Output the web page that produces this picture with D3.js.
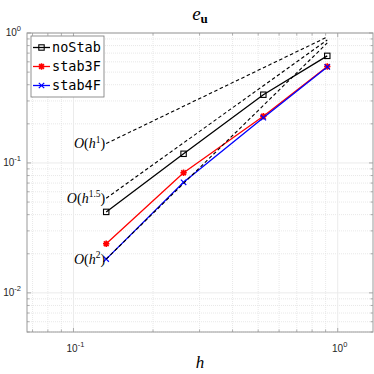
<!DOCTYPE html>
<html>
<head>
<meta charset="utf-8">
<script src="https://cdn.jsdelivr.net/npm/d3@7"></script>
<style>
  body { margin: 0; background: #fff; }
</style>
</head>
<body>
<div id="chart"></div>
<script>
// Data
const hValues = [0.133, 0.261, 0.523, 0.913]
const seriesNames = ['noStab', 'stab3F', 'stab4F']
const noStab = [0.042, 0.1176, 0.335, 0.667]
const stab3F = [0.0239, 0.0841, 0.2285, 0.552]
const stab4F = [0.0182, 0.071, 0.223, 0.548]
// reference slopes: value at first and last h
const refOrders = ['1', '1.5', '2']
const refStart = [0.141, 0.0535, 0.0182]
const refEnd = [0.932, 0.884, 0.838]
const xTickValues = [0.1, 1]
const xTickExps = ['-1', '0']
const yTickValues = [0.01, 0.1, 1]
const yTickExps = ['-2', '-1', '0']

function draw() {
  let dimensions = {
    width: 374,
    height: 374,
    margins: { top: 33, bottom: 42, left: 27, right: 1 }
  }
  dimensions.ctrWidth = dimensions.width - dimensions.margins.left - dimensions.margins.right
  dimensions.ctrHeight = dimensions.height - dimensions.margins.top - dimensions.margins.bottom

  const svg = d3.select('#chart')
    .append('svg')
    .attr('width', dimensions.width)
    .attr('height', dimensions.height)

  const ctr = svg.append('g')
    .attr('transform', `translate(${dimensions.margins.left}, ${dimensions.margins.top})`)

  // Scales
  const xScale = d3.scaleLog()
    .domain([0.0667, 1.36])
    .range([0, dimensions.ctrWidth])
  const yScale = d3.scaleLog()
    .domain([0.005, 1])
    .range([dimensions.ctrHeight, 0])

  const xMinor = xScale.ticks().filter(v => !xTickValues.some(t => Math.abs(t - v) < 1e-9))
  const yMinor = yScale.ticks().filter(v => !yTickValues.some(t => Math.abs(t - v) < 1e-9))

  // Grid
  const grid = ctr.append('g')
  grid.selectAll('.xminor').data(xMinor).join('line')
    .attr('x1', d => xScale(d)).attr('x2', d => xScale(d))
    .attr('y1', 0).attr('y2', dimensions.ctrHeight)
    .attr('stroke', '#e2e2e2').attr('stroke-width', 0.8).attr('stroke-dasharray', '1,1')
  grid.selectAll('.yminor').data(yMinor).join('line')
    .attr('y1', d => yScale(d)).attr('y2', d => yScale(d))
    .attr('x1', 0).attr('x2', dimensions.ctrWidth)
    .attr('stroke', '#e2e2e2').attr('stroke-width', 0.8).attr('stroke-dasharray', '1,1')
  grid.selectAll('.xmajor').data(xTickValues).join('line')
    .attr('x1', d => xScale(d)).attr('x2', d => xScale(d))
    .attr('y1', 0).attr('y2', dimensions.ctrHeight)
    .attr('stroke', '#ebebeb').attr('stroke-width', 1)
  grid.selectAll('.ymajor').data(yTickValues).join('line')
    .attr('y1', d => yScale(d)).attr('y2', d => yScale(d))
    .attr('x1', 0).attr('x2', dimensions.ctrWidth)
    .attr('stroke', '#ebebeb').attr('stroke-width', 1)

  // Data lines
  const series = [
    { name: seriesNames[0], values: noStab, color: '#000000', marker: 'square' },
    { name: seriesNames[1], values: stab3F, color: '#ff0000', marker: 'star' },
    { name: seriesNames[2], values: stab4F, color: '#0000ff', marker: 'cross' }
  ]

  const lineGen = d3.line()
    .x((d, i) => xScale(hValues[i]))
    .y(d => yScale(d))

  ctr.selectAll('.series').data(series).join('path')
    .attr('d', d => lineGen(d.values))
    .attr('fill', 'none')
    .attr('stroke', d => d.color)
    .attr('stroke-width', 1.3)

  function drawMarker(g, type, color, x, y) {
    if (type === 'square') {
      g.append('rect')
        .attr('x', x - 2.7).attr('y', y - 2.7)
        .attr('width', 5.4).attr('height', 5.4)
        .attr('fill', 'none').attr('stroke', color).attr('stroke-width', 1.1)
    } else if (type === 'star') {
      const r = 3.2
      const p = `M${x - r},${y}L${x + r},${y}M${x},${y - r}L${x},${y + r}` +
        `M${x - r * 0.75},${y - r * 0.75}L${x + r * 0.75},${y + r * 0.75}` +
        `M${x - r * 0.75},${y + r * 0.75}L${x + r * 0.75},${y - r * 0.75}`
      g.append('path').attr('d', p).attr('stroke', color).attr('stroke-width', 1.6).attr('fill', 'none')
    } else {
      const r = 2.7
      const p = `M${x - r},${y - r}L${x + r},${y + r}M${x - r},${y + r}L${x + r},${y - r}`
      g.append('path').attr('d', p).attr('stroke', color).attr('stroke-width', 1.2).attr('fill', 'none')
    }
  }

  const markers = ctr.append('g')
  series.forEach(s => {
    s.values.forEach((v, i) => drawMarker(markers, s.marker, s.color, xScale(hValues[i]), yScale(v)))
  })

  // Reference slope lines
  const hFirst = hValues[0]
  const hLast = hValues[hValues.length - 1]
  ctr.selectAll('.ref').data(refOrders).join('line')
    .attr('x1', xScale(hFirst)).attr('x2', xScale(hLast))
    .attr('y1', (d, i) => yScale(refStart[i]))
    .attr('y2', (d, i) => yScale(refEnd[i]))
    .attr('stroke', '#000').attr('stroke-width', 1.1)
    .attr('stroke-dasharray', '3.5,2.5')

  const refText = ctr.selectAll('.reflabel').data(refOrders).join('text')
    .attr('x', xScale(hFirst) - 1)
    .attr('y', (d, i) => yScale(refStart[i]) + 4.5)
    .attr('text-anchor', 'end')
    .attr('font-family', '"Liberation Serif", "DejaVu Serif", serif')
    .attr('font-size', 14)
    .attr('fill', '#000')
  refText.append('tspan').attr('font-style', 'italic').text('O')
  refText.append('tspan').text('(')
  refText.append('tspan').attr('font-style', 'italic').text('h')
  refText.append('tspan').attr('font-size', 9.5).attr('dy', -5.5).text(d => d)
  refText.append('tspan').attr('dy', 5.5).text(')')

  // Axes box and ticks
  const axisColor = '#9a9a9a'
  const tickLen = 4
  const minorLen = 2.5
  const ticks = ctr.append('g').attr('stroke', axisColor).attr('stroke-width', 0.8)
  const allX = xMinor.map(v => ({ v, len: minorLen })).concat(xTickValues.map(v => ({ v, len: tickLen })))
  const allY = yMinor.map(v => ({ v, len: minorLen })).concat(yTickValues.map(v => ({ v, len: tickLen })))
  ticks.selectAll('.xb').data(allX).join('line')
    .attr('x1', d => xScale(d.v)).attr('x2', d => xScale(d.v))
    .attr('y1', dimensions.ctrHeight).attr('y2', d => dimensions.ctrHeight - d.len)
  ticks.selectAll('.xt').data(allX).join('line')
    .attr('x1', d => xScale(d.v)).attr('x2', d => xScale(d.v))
    .attr('y1', 0).attr('y2', d => d.len)
  ticks.selectAll('.yl').data(allY).join('line')
    .attr('y1', d => yScale(d.v)).attr('y2', d => yScale(d.v))
    .attr('x1', 0).attr('x2', d => d.len)
  ticks.selectAll('.yr').data(allY).join('line')
    .attr('y1', d => yScale(d.v)).attr('y2', d => yScale(d.v))
    .attr('x1', dimensions.ctrWidth).attr('x2', d => dimensions.ctrWidth - d.len)

  ctr.append('rect')
    .attr('x', 0).attr('y', 0)
    .attr('width', dimensions.ctrWidth).attr('height', dimensions.ctrHeight)
    .attr('fill', 'none').attr('stroke', axisColor).attr('stroke-width', 1)

  // Tick labels
  const labelFont = '"Liberation Sans", Arial, sans-serif'
  const xLab = ctr.selectAll('.xlab').data(xTickValues).join('text')
    .attr('x', d => xScale(d) + 2)
    .attr('y', dimensions.ctrHeight + 20)
    .attr('text-anchor', 'middle')
    .attr('font-family', labelFont).attr('font-size', 10).attr('fill', '#262626')
  xLab.append('tspan').text('10')
  xLab.append('tspan').attr('font-size', 7.5).attr('dy', -5).text((d, i) => xTickExps[i])

  const yLab = ctr.selectAll('.ylab').data(yTickValues).join('text')
    .attr('x', -6)
    .attr('y', d => yScale(d) + 3)
    .attr('text-anchor', 'end')
    .attr('font-family', labelFont).attr('font-size', 10).attr('fill', '#262626')
  yLab.append('tspan').text('10')
  yLab.append('tspan').attr('font-size', 7.5).attr('dy', -5).text((d, i) => yTickExps[i])

  // Axis label
  svg.append('text')
    .attr('x', dimensions.margins.left + dimensions.ctrWidth / 2)
    .attr('y', 368)
    .attr('text-anchor', 'middle')
    .attr('font-family', '"Liberation Serif", "DejaVu Serif", serif')
    .attr('font-style', 'italic')
    .attr('font-size', 17)
    .text('h')

  // Title
  const title = svg.append('text')
    .attr('x', dimensions.margins.left + dimensions.ctrWidth / 2)
    .attr('y', 20)
    .attr('text-anchor', 'middle')
    .attr('font-family', '"Liberation Serif", "DejaVu Serif", serif')
    .attr('font-size', 19)
  title.append('tspan').attr('font-style', 'italic').text('e')
  title.append('tspan').attr('font-weight', 'bold').attr('font-size', 13).attr('dy', 3).text('u')

  // Legend
  const legend = svg.append('g').attr('transform', 'translate(31, 36)')
  legend.append('rect')
    .attr('x', 0).attr('y', 0).attr('width', 73).attr('height', 61)
    .attr('fill', '#fff').attr('stroke', '#777').attr('stroke-width', 0.8)
  series.forEach((s, i) => {
    const y = 11.5 + i * 19
    legend.append('line')
      .attr('x1', 2).attr('x2', 19).attr('y1', y).attr('y2', y)
      .attr('stroke', s.color).attr('stroke-width', 1.3)
    drawMarker(legend, s.marker, s.color, 10.5, y)
    legend.append('text')
      .attr('x', 21).attr('y', y + 4.5)
      .attr('font-family', '"DejaVu Sans Mono", monospace')
      .attr('font-size', 13.5)
      .attr('fill', '#000')
      .text(s.name)
  })
}

draw()
</script>
</body>
</html>
